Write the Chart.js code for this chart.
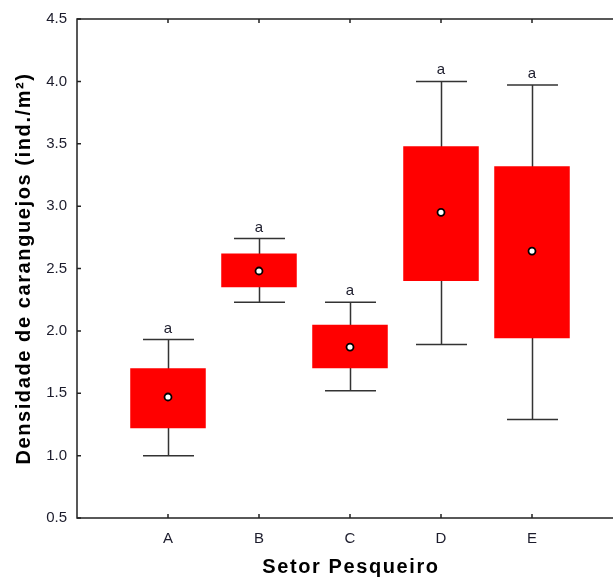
<!DOCTYPE html>
<html>
<head>
<meta charset="utf-8">
<script src="https://cdn.jsdelivr.net/npm/chart.js@4.4.1/dist/chart.umd.min.js"></script>
<style>
  html, body { margin: 0; padding: 0; background: #fff; overflow: hidden; }
  #wrap { width: 640px; height: 579px; }
</style>
</head>
<body>
<div id="wrap"><canvas id="chart" width="640" height="579"></canvas></div>
<script>
var categories = ['A', 'B', 'C', 'D', 'E'];
var whiskerLow = [1.00, 2.23, 1.52, 1.89, 1.29];
var boxLow = [1.22, 2.35, 1.70, 2.40, 1.94];
var middle = [1.47, 2.48, 1.87, 2.95, 2.64];
var boxHigh = [1.70, 2.62, 2.05, 3.48, 3.32];
var whiskerHigh = [1.93, 2.74, 2.23, 4.00, 3.97];
var letters = ['a', 'a', 'a', 'a', 'a'];
var yTicks = [0.5, 1.0, 1.5, 2.0, 2.5, 3.0, 3.5, 4.0, 4.5];

var axisColor = '#222';
var textColor = '#1c1c2c';
var font = "'Liberation Sans', Arial, sans-serif";

// one empty slot on each side of the sectors
function pad(arr) {
	return [null].concat(arr, [null]);
}

var labels = pad(categories).map(function (c) { return c || ''; });
var boxes = pad(categories.map(function (c, i) { return [boxLow[i], boxHigh[i]]; }));

// whiskers, frame, inward ticks, letters and axis titles
var boxExtras = {
	id: 'boxExtras',
	beforeDatasetsDraw: function (chart) {
		var ctx = chart.ctx, x = chart.scales.x, y = chart.scales.y;
		var step = x.getPixelForValue(2) - x.getPixelForValue(1);
		var half = step * 0.28;
		ctx.save();
		ctx.strokeStyle = '#333';
		ctx.lineWidth = 1.5;
		categories.forEach(function (c, i) {
			var cx = Math.round(x.getPixelForValue(i + 1)) + 0.5;
			var top = y.getPixelForValue(whiskerHigh[i]);
			var bot = y.getPixelForValue(whiskerLow[i]);
			ctx.beginPath();
			ctx.moveTo(cx, top);
			ctx.lineTo(cx, bot);
			ctx.moveTo(cx - half, top);
			ctx.lineTo(cx + half, top);
			ctx.moveTo(cx - half, bot);
			ctx.lineTo(cx + half, bot);
			ctx.stroke();
		});
		ctx.restore();
	},
	afterDraw: function (chart) {
		var ctx = chart.ctx, x = chart.scales.x, y = chart.scales.y;
		var a = chart.chartArea;
		ctx.save();
		ctx.strokeStyle = axisColor;
		ctx.lineWidth = 1.5;
		ctx.strokeRect(a.left, a.top, a.right - a.left, a.bottom - a.top);

		ctx.beginPath();
		yTicks.forEach(function (v) {
			var py = y.getPixelForValue(v);
			ctx.moveTo(a.left, py);
			ctx.lineTo(a.left + 4, py);
			ctx.moveTo(a.right, py);
			ctx.lineTo(a.right - 4, py);
		});
		categories.forEach(function (c, i) {
			var px = x.getPixelForValue(i + 1);
			ctx.moveTo(px, a.bottom);
			ctx.lineTo(px, a.bottom - 4);
			ctx.moveTo(px, a.top);
			ctx.lineTo(px, a.top + 4);
		});
		ctx.stroke();

		// group letters above each upper whisker
		ctx.fillStyle = textColor;
		ctx.font = '15px ' + font;
		ctx.textAlign = 'center';
		ctx.textBaseline = 'alphabetic';
		categories.forEach(function (c, i) {
			ctx.fillText(letters[i], x.getPixelForValue(i + 1), y.getPixelForValue(whiskerHigh[i]) - 7);
		});

		// axis titles
		ctx.fillStyle = '#000';
		ctx.font = 'bold 20px ' + font;
		ctx.letterSpacing = '1.6px';
		ctx.textBaseline = 'middle';
		ctx.fillText('Setor Pesqueiro', (a.left + a.right) / 2 + 1, 567);
		ctx.translate(24, (a.top + a.bottom) / 2);
		ctx.rotate(-Math.PI / 2);
		ctx.fillText('Densidade de caranguejos (ind./m²)', 0, 0);
		ctx.restore();
	}
};

new Chart(document.getElementById('chart'), {
	type: 'bar',
	data: {
		labels: labels,
		datasets: [
			{
				type: 'line',
				data: pad(middle),
				showLine: false,
				pointRadius: 3.5,
				pointBackgroundColor: '#fff',
				pointBorderColor: '#000',
				pointBorderWidth: 1.8,
				order: 0
			},
			{
				data: boxes,
				backgroundColor: '#ff0000',
				borderWidth: 0,
				barPercentage: 1,
				categoryPercentage: 0.83,
				order: 1
			}
		]
	},
	options: {
		responsive: false,
		animation: false,
		layout: { padding: { top: 19, right: 17, left: 0, bottom: 0 } },
		plugins: { legend: { display: false }, tooltip: { enabled: false } },
		scales: {
			x: {
				offset: false,
				grid: { display: false, drawTicks: false },
				border: { display: false },
				ticks: {
					color: textColor,
					font: { family: font, size: 15 },
					padding: 12,
					maxRotation: 0,
					autoSkip: false
				},
				afterFit: function (s) { s.height = 61; }
			},
			y: {
				min: 0.5,
				max: 4.5,
				grid: { display: false, drawTicks: false },
				border: { display: false },
				ticks: {
					stepSize: 0.5,
					color: textColor,
					font: { family: font, size: 15 },
					padding: 10,
					callback: function (v) { return v.toFixed(1); }
				},
				afterFit: function (s) { s.width = 77; }
			}
		}
	},
	plugins: [boxExtras]
});
</script>
</body>
</html>
